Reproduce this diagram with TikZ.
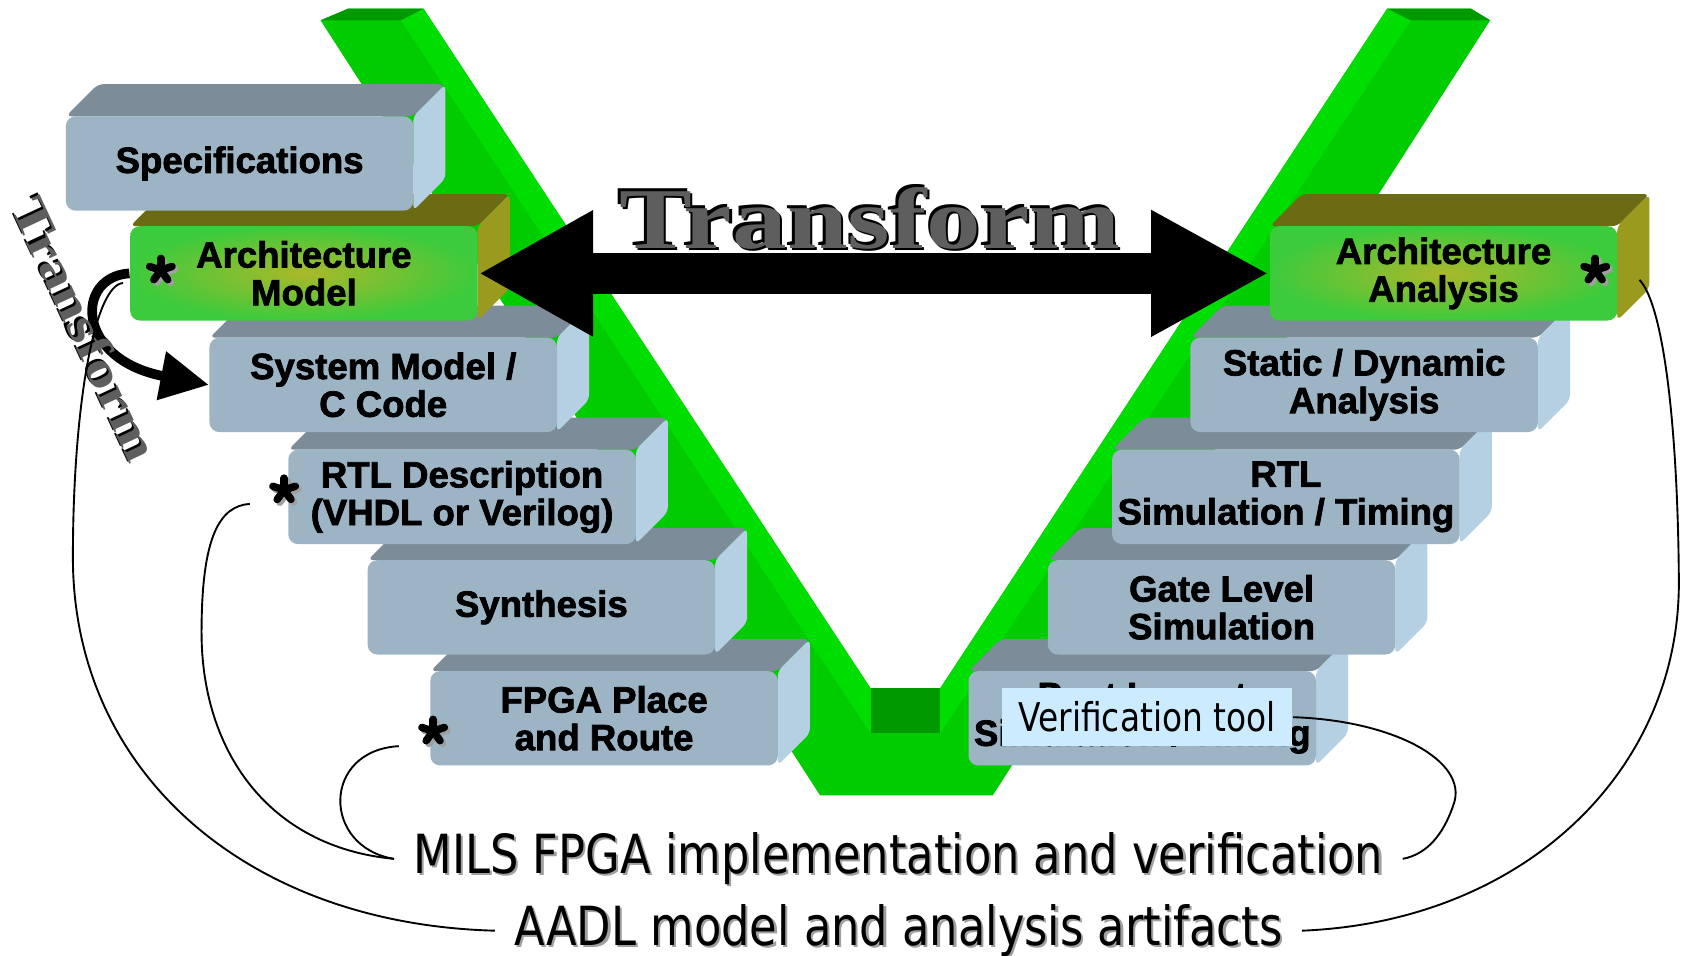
\documentclass[tikz,border=0pt]{standalone}
\usepackage{fontspec}
\usetikzlibrary{arrows.meta,calc}

\newfontfamily\boxfont[FakeBold=2]{Liberation Sans Bold}
\newfontfamily\handfont[FakeStretch=0.83]{DejaVu Sans}
\newfontfamily\metalfont[FakeStretch=1.26]{Liberation Serif Bold}

\definecolor{steelface}{HTML}{9DB4C5}
\definecolor{steellid}{HTML}{7C8D99}
\definecolor{steelflank}{HTML}{B4D0E2}
\definecolor{archcore}{HTML}{AAB82A}
\definecolor{archrim}{HTML}{3CCB3C}
\definecolor{archlidc}{HTML}{6B6B14}
\definecolor{archflankc}{HTML}{999A1E}
\definecolor{vmid}{HTML}{00CC00}
\definecolor{vlight}{HTML}{00DD00}
\definecolor{vdark}{HTML}{009900}
\definecolor{toolfill}{HTML}{CCEBFE}
\definecolor{metalgrey}{HTML}{5E5E5E}
\definecolor{capshade}{HTML}{A0A0A0}

\tikzset{
    slabtext/.style={align=center, inner sep=0pt, minimum width=3.24cm,
        minimum height=0.88cm, rounded corners=2.6pt,
        font=\boxfont\fontsize{9.7}{10}\selectfont},
    greyfront/.style={slabtext, fill=steelface},
    greylid/.style={fill=steellid, rounded corners=1.5pt},
    greyflank/.style={fill=steelflank, rounded corners=1.5pt},
    archfront/.style={slabtext, inner color=archcore, outer color=archrim},
    archlid/.style={fill=archlidc, rounded corners=1.5pt},
    archflank/.style={fill=archflankc, rounded corners=1.5pt},
    toolbox/.style={fill=toolfill, minimum width=2.71cm, minimum height=0.54cm,
        inner sep=0pt, font=\handfont\fontsize{10.5}{11}\selectfont},
    metal/.style={anchor=base, inner sep=0pt,
        font=\metalfont\fontsize{23}{23}\selectfont},
    sidemetal/.style={inner sep=0pt, rotate=-65,
        font=\metalfont\fontsize{13}{13}\selectfont},
    caption/.style={anchor=base, inner sep=5pt,
        font=\handfont\fontsize{14.3}{15}\selectfont},
    petal/.style={line width=0.07cm, line cap=round},
    petalshade/.style={petal, capshade},
    bigarrow/.style={line width=0.38cm,
        {Triangle[length=1.07cm,width=1.1cm]}-{Triangle[length=1.1cm,width=1.1cm]}},
    bendarrow/.style={line width=0.09cm, -{Triangle[length=0.45cm,width=0.44cm]}},
    link/.style={line width=0.5pt}
}

% брусок: имя, центр, текст, вид
\newcommand\slab[4]{%
    \begin{scope}[shift={#2}]
        \fill[#4lid] (-162,-44) -- (-132,-74) -- (192,-74) -- (162,-44) -- cycle;
        \fill[#4flank] (162,-44) -- (192,-74) -- (192,14) -- (162,44) -- cycle;
    \end{scope}
    \node[#4front] (#1) at #2 {#3};
}

\begin{document}
\begin{tikzpicture}[x=0.01cm, y=-0.01cm]
    % Поле
    \useasboundingbox (0,0) rectangle (1568,891);
    \fill[white] (0,0) rectangle (1568,891);

    % Зелёная V
    \fill[vmid] (299,19) -- (325,8) -- (395,8) -- (812,642) -- (877,642)
        -- (1294,8) -- (1372,8) -- (1390,19) -- (926,742) -- (765,742) -- cycle;
    \fill[vlight] (374,19) -- (395,8) -- (812,642) -- (812,684) -- cycle;
    \fill[vlight] (1294,8) -- (1316,19) -- (877,684) -- (877,642) -- cycle;
    \fill[vdark] (299,19) -- (325,8) -- (395,8) -- (374,19) -- cycle;
    \fill[vdark] (1294,8) -- (1372,8) -- (1390,19) -- (1316,19) -- cycle;
    \fill[vdark] (812,642) rectangle (877,684);

    % Левая ветвь
    \slab{fpga}{(563.5,670)}{FPGA Place\\and Route}{grey}
    \slab{synth}{(505,566.5)}{Synthesis}{grey}
    \slab{rtl}{(431,463.5)}{RTL Description\\(VHDL or Verilog)}{grey}
    \slab{sysm}{(357.5,359)}{System Model /\\C Code}{grey}
    \slab{amod}{(283.5,255)}{Architecture\\Model}{arch}
    \slab{spec}{(223.5,152.5)}{Specifications}{grey}

    % Правая ветвь
    \slab{post}{(1065.5,670)}{Post Layout\\Simulation / Timing}{grey}
    \slab{gate}{(1139.5,566.5)}{Gate Level\\Simulation}{grey}
    \slab{rtlsim}{(1199.5,463.5)}{RTL\\Simulation / Timing}{grey}
    \slab{sda}{(1272.5,359)}{Static / Dynamic\\Analysis}{grey}
    \slab{aana}{(1346.5,255)}{Architecture\\Analysis}{arch}

    \node[toolbox] (vtool) at (1070,669) {Verification tool};

    % Звёздочки
    \coordinate (amodstar) at (150,252);
    \coordinate (rtlstar) at (265,457);
    \coordinate (fpgastar) at (404,682);
    \coordinate (aanastar) at (1488,252);
    \foreach \s in {amodstar, rtlstar, fpgastar, aanastar} {
        \foreach \a in {-90,-18,54,126,198}
            \draw[petalshade] ($(\s)+(2.5,2.5)$) -- ++(\a:11);
        \foreach \a in {-90,-18,54,126,198}
            \draw[petal] (\s) -- ++(\a:11);
    }

    % Transform
    \draw[bigarrow] (amod.east) -- (aana.west);
    \node[metal, text=black] (xformrim) at (809,229) {Transform};
    \node[metal, text=black] (xformedge) at (813.5,233.5) {Transform};
    \node[metal, text=metalgrey] (xform) at (811.5,231.5) {Transform};

    \draw[bendarrow] (amod.west) .. controls (70,258) and (70,335) .. (sysm.west);
    \node[sidemetal, text=black] (sidexformrim) at (78,305) {Transform};
    \node[sidemetal, text=metalgrey] (sidexform) at (80,307) {Transform};

    % Подписи
    \node[caption, text=capshade] (milsshade) at (840,817)
        {MILS FPGA implementation and verification};
    \node[caption] (mils) at (838,815) {MILS FPGA implementation and verification};
    \node[caption, text=capshade] (aadlshade) at (840,884)
        {AADL model and analysis artifacts};
    \node[caption] (aadl) at (838,882) {AADL model and analysis artifacts};

    % Связи
    \draw[link] (aadl.west) .. controls (230,862) and (68,720) .. (68,520)
        .. controls (68,380) and (88,266) .. ($(amod.west)+(-6,9)$);
    \draw[link] (aadl.east) .. controls (1420,860) and (1568,720) .. (1566,540)
        .. controls (1565,400) and (1552,285) .. ($(aana.east)+(20,6)$);
    \draw[link] (mils.west) .. controls (250,790) and (188,700) .. (188,590)
        .. controls (188,500) and (205,472) .. ($(rtlstar)+(-32,13)$);
    \draw[link] (mils.west) .. controls (300,790) and (300,700) .. ($(fpgastar)+(-32,14)$);
    \draw[link] (vtool.east) .. controls (1300,672) and (1370,710) .. (1356,750)
        .. controls (1346,780) and (1330,797) .. (mils.east);
\end{tikzpicture}
\end{document}
